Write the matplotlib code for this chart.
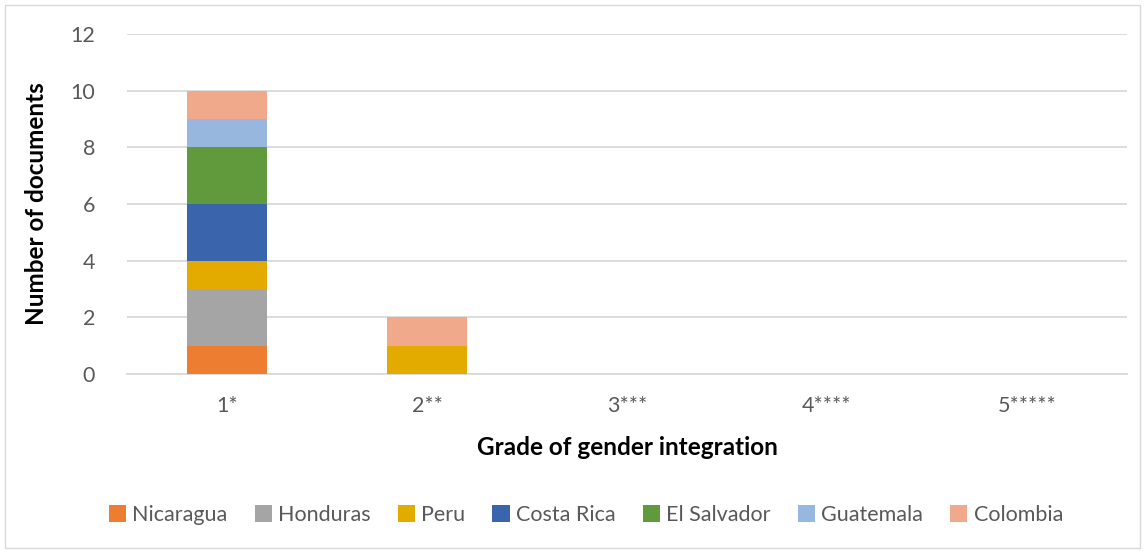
import matplotlib.pyplot as plt
from matplotlib.patches import Rectangle
import numpy as np

plt.rcParams['font.family'] = ['Lato', 'DejaVu Sans']

grades = ['1*', '2**', '3***', '4****', '5*****']
countries = ['Nicaragua', 'Honduras', 'Peru', 'Costa Rica', 'El Salvador', 'Guatemala', 'Colombia']
colors = ['#ed7d31', '#a5a5a5', '#e3aa00', '#3a64ac', '#619a3c', '#97b7df', '#f1a98b']
counts = {
    'Nicaragua':   [1, 0, 0, 0, 0],
    'Honduras':    [2, 0, 0, 0, 0],
    'Peru':        [1, 1, 0, 0, 0],
    'Costa Rica':  [2, 0, 0, 0, 0],
    'El Salvador': [2, 0, 0, 0, 0],
    'Guatemala':   [1, 0, 0, 0, 0],
    'Colombia':    [1, 1, 0, 0, 0],
}

fig = plt.figure(figsize=(11.45, 5.53), dpi=100)
ax = fig.add_axes([127/1145, 1-374/553, 1000/1145, 340/553])

x = np.arange(len(grades))
bottom = np.zeros(len(grades))
for c, col in zip(countries, colors):
    vals = np.array(counts[c], dtype=float)
    ax.bar(x, vals, 0.4, bottom=bottom, color=col, label=c, zorder=3)
    bottom += vals

ax.set_xlim(-0.5, 4.5)
ax.set_ylim(0, 12)
ax.set_yticks(range(0, 13, 2))
ax.set_xticks(x)
ax.set_xticklabels(grades)
ax.grid(axis='y', color='#d9d9d9', lw=1.3, zorder=0)
for s in ['top', 'right', 'left']:
    ax.spines[s].set_visible(False)
ax.spines['bottom'].set_color('#d9d9d9')
ax.spines['bottom'].set_linewidth(1.3)
ax.tick_params(length=0, labelsize=15.5, colors='#595959')
ax.tick_params(axis='x', pad=16)
ax.tick_params(axis='y', pad=23)
ax.set_xlabel('Grade of gender integration', fontsize=17.5, fontweight='bold', labelpad=14)
ax.set_ylabel('Number of documents', fontsize=17.5, fontweight='bold', labelpad=16)

fig.legend(loc='center', bbox_to_anchor=(586/1145, 1-515/553), ncol=7, frameon=False,
           fontsize=15.5, handlelength=0.8, handleheight=0.8, handletextpad=0.3,
           columnspacing=1.25, labelcolor='#595959')

fig.patches.append(Rectangle((5/1145, 5/553), 1135/1145, 543/553, transform=fig.transFigure,
                             fill=False, edgecolor='#d9d9d9', lw=1))

fig.savefig('out.png', dpi=100)
